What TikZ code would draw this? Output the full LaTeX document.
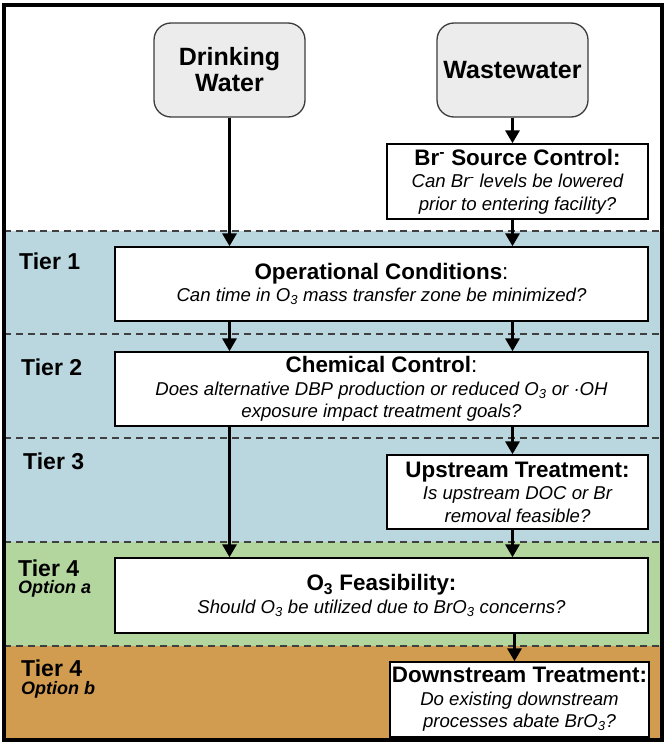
\documentclass[tikz,border=0pt]{standalone}
\usepackage{fontspec}
\setmainfont{Liberation Sans}
\usetikzlibrary{arrows.meta}
\definecolor{tierblue}{RGB}{186,214,223}
\definecolor{tiergreen}{RGB}{179,214,158}
\definecolor{tierorange}{RGB}{209,155,80}
\definecolor{startfill}{RGB}{236,236,236}
\definecolor{startline}{RGB}{60,60,60}
\newcommand{\tfnt}{\fontsize{22.4}{23.5}\bfseries\selectfont}
\newcommand{\ifnt}{\fontsize{18.6}{22.5}\itshape\selectfont}
\newcommand{\rfnt}{\fontsize{22.4}{23.5}\mdseries\selectfont}
\begin{document}
\begin{tikzpicture}[x=1pt,y=-1pt,
  startbox/.style={draw=startline, line width=1.3pt, fill=startfill, rounded corners=17pt,
    minimum width=151pt, minimum height=94pt, inner sep=0pt, align=center,
    font=\fontsize{25}{26}\bfseries\selectfont},
  qbox/.style={draw=black, line width=1.4pt, fill=white, inner sep=0pt, align=center,
    font=\fontsize{18.6}{22.5}\selectfont},
  flow/.style={line width=3.6pt, -{Triangle[length=13pt,width=14pt]}},
  tierline/.style={draw=black!75, line width=1.5pt, dash pattern=on 7pt off 5pt},
  tierlab/.style={anchor=west, inner sep=0pt, font=\fontsize{23}{24}\bfseries\selectfont},
  optlab/.style={anchor=west, inner sep=0pt, font=\fontsize{18}{20}\bfseries\itshape\selectfont}
]
\useasboundingbox (0,0) rectangle (666,747);
\fill[white] (0,0) rectangle (666,747);
% tier bands
\fill[tierblue] (4,231) rectangle (662,542);
\fill[tiergreen] (4,542) rectangle (662,646);
\fill[tierorange] (4,646) rectangle (662,740);
\foreach \yy in {231,334,438,542,646} \draw[tierline] (4,\yy) -- (662,\yy);
% frame
\draw[line width=4pt] (4,5) rectangle (662,740);

% tier labels
\node[tierlab] (t1) at (19,261) {Tier 1};
\node[tierlab] (t2) at (21,367) {Tier 2};
\node[tierlab] (t3) at (23,461) {Tier 3};
\node[tierlab] (t4a) at (18,568) {Tier 4};
\node[optlab] (oa) at (18,589) {Option a};
\node[tierlab] (t4b) at (21,668) {Tier 4};
\node[optlab] (ob) at (21,690) {Option b};

% start boxes
\node[startbox] (dw) at (229.5,70) {Drinking\\Water};
\node[startbox] (ww) at (512.5,70) {Wastewater};

% question boxes
\node[qbox, minimum width=261pt, minimum height=75pt] (br) at (517.5,181.5)
  {{\tfnt Br\textsuperscript{-} Source Control:}\\{\ifnt Can Br\textsuperscript{-} levels be lowered}\\{\ifnt prior to entering facility?}};
\node[qbox, minimum width=533pt, minimum height=74pt] (op) at (381.5,284)
  {{\tfnt Operational Conditions}{\rfnt :}\\{\ifnt Can time in O\textsubscript{3} mass transfer zone be minimized?}};
\node[qbox, minimum width=533pt, minimum height=74pt] (cc) at (381.5,389)
  {{\tfnt Chemical Control}{\rfnt :}\\{\ifnt Does alternative DBP production or reduced O\textsubscript{3} or ·OH}\\{\ifnt exposure impact treatment goals?}};
\node[qbox, minimum width=261pt, minimum height=74pt] (up) at (517.5,492)
  {{\tfnt Upstream Treatment:}\\{\ifnt Is upstream DOC or Br}\\{\ifnt removal feasible?}};
\node[qbox, minimum width=533pt, minimum height=75pt] (of) at (381.5,595.5)
  {{\tfnt O\textsubscript{3} Feasibility:}\\{\ifnt Should O\textsubscript{3} be utilized due to BrO\textsubscript{3} concerns?}};
\node[qbox, minimum width=259pt, minimum height=75pt] (ds) at (519.5,699.5)
  {{\tfnt Downstream Treatment:}\\{\ifnt Do existing downstream}\\{\ifnt processes abate BrO\textsubscript{3}?}};

% connectors
\draw[flow] (dw.south) -- (dw.south |- op.north);
\draw[flow] (dw.south |- op.south) -- (dw.south |- cc.north);
\draw[flow] (dw.south |- cc.south) -- (dw.south |- of.north);
\draw[flow] (ww.south) -- (ww.south |- br.north);
\draw[flow] (ww.south |- br.south) -- (ww.south |- op.north);
\draw[flow] (ww.south |- op.south) -- (ww.south |- cc.north);
\draw[flow] (ww.south |- cc.south) -- (ww.south |- up.north);
\draw[flow] (ww.south |- up.south) -- (ww.south |- of.north);
\draw[flow] ([xshift=2pt]ww.south |- of.south) -- ([xshift=2pt]ww.south |- ds.north);
\end{tikzpicture}
\end{document}
